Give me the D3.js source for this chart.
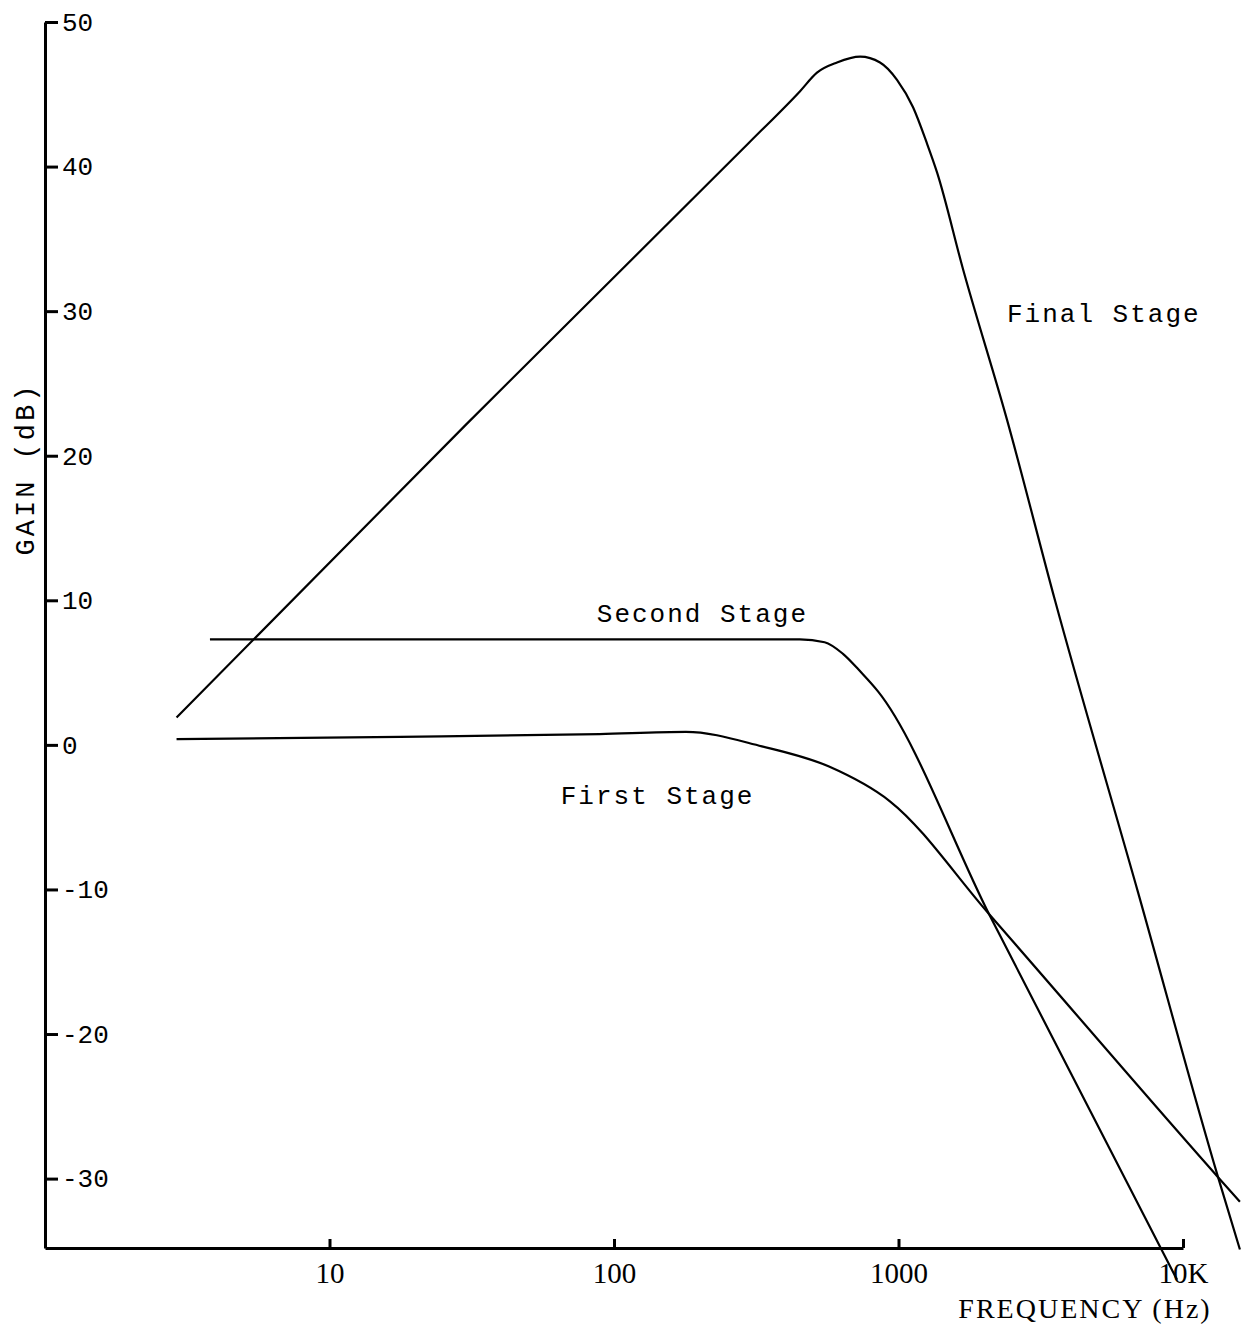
<!DOCTYPE html>
<html>
<head>
<meta charset="utf-8">
<script src="https://d3js.org/d3.v7.min.js"></script>
<style>
  body { margin: 0; background: #fff; }
  .axis path, .axis line { stroke: #000; stroke-width: 3; }
  .curve { fill: none; stroke: #000; stroke-width: 2.2; stroke-linejoin: round; }
</style>
</head>
<body>
<svg></svg>
<script>
// values (frequency in Hz, gain in dB)
var finalFreq = [2.9, 30, 300, 450, 517, 608, 733, 861, 988, 1125, 1259, 1366, 1686, 2406, 3548, 6950, 13280, 15850];
var finalGain = [1.9, 22.1, 41.7, 45.2, 46.5, 47.2, 47.6, 47.2, 46.0, 44.1, 41.6, 39.6, 32.9, 22.5, 10.0, -10.2, -29.9, -34.9];

var secondFreq = [3.8, 50, 450, 550, 638, 740, 847, 2080, 9530];
var secondGain = [7.3, 7.3, 7.3, 7.1, 6.3, 5.0, 3.7, -11.7, -37.0];

var firstFreq = [2.9, 17.7, 89, 179, 331, 570, 933, 2080, 13280, 15850];
var firstGain = [0.4, 0.55, 0.75, 0.9, -0.1, -1.5, -3.9, -11.7, -29.9, -31.6];

var curveNames = ["Final Stage", "Second Stage", "First Stage"];
var labelFreq = [2406, 87, 65];
var labelGain = [29.25, 8.5, -4.1];

var xTickValues = [10, 100, 1000, 10000];
var xTickLabels = ["10", "100", "1000", "10K"];
var yTickValues = [-30, -20, -10, 0, 10, 20, 30, 40, 50];

var width = 1246;
var height = 1328;

var svg = d3.select("svg")
            .attr("width", width)
            .attr("height", height);

var xScale = d3.scaleLog()
               .domain([1, 10000])
               .range([45, 1183]);

var yScale = d3.scaleLinear()
               .domain([-34.8, 50])
               .range([1248, 22]);

var line = d3.line()
             .x(function(d){ return xScale(d[0]); })
             .y(function(d){ return yScale(d[1]); })
             .curve(d3.curveMonotoneX);

var series = [
  d3.zip(finalFreq, finalGain),
  d3.zip(secondFreq, secondGain),
  d3.zip(firstFreq, firstGain)
];

svg.selectAll("path.curve")
   .data(series)
   .enter()
   .append("path")
   .attr("class", "curve")
   .attr("stroke-width", function(d, i){ return i == 1 ? 2.8 : 2.2; })
   .attr("d", line);

// axes
var xAxis = d3.axisBottom()
              .scale(xScale)
              .tickValues(xTickValues)
              .tickFormat(function(d, i){ return xTickLabels[i]; })
              .tickSizeInner(-9)
              .tickSizeOuter(0)
              .tickPadding(14);

// plain hyphen for negatives, like the typed labels
var yAxis = d3.axisRight()
              .scale(yScale)
              .tickValues(yTickValues)
              .tickFormat(function(d){ return String(d); })
              .tickSizeInner(13)
              .tickSizeOuter(0)
              .tickPadding(4);

var gx = svg.append("g")
   .attr("class", "axis")
   .attr("transform", "translate(0," + yScale(-34.8) + ")")
   .call(xAxis);

gx.selectAll("text")
  .attr("fill", "#000")
  .style("font-family", "'Liberation Serif', serif")
  .style("font-size", "29px");

var gy = svg.append("g")
   .attr("class", "axis")
   .attr("transform", "translate(" + xScale(1) + ",0)")
   .call(yAxis);

gy.selectAll("text")
  .attr("fill", "#000")
  .style("font-family", "'Liberation Mono', monospace")
  .style("font-size", "26px");

// curve labels
svg.selectAll("text.name")
   .data(curveNames)
   .enter()
   .append("text")
   .attr("class", "name")
   .attr("x", function(d, i){ return xScale(labelFreq[i]); })
   .attr("y", function(d, i){ return yScale(labelGain[i]); })
   .style("font-family", "'Liberation Mono', monospace")
   .style("font-size", "26px")
   .style("letter-spacing", "2px")
   .text(function(d){ return d; });

// axis titles
svg.append("text")
   .attr("transform", "translate(34,469) rotate(-90)")
   .attr("text-anchor", "middle")
   .style("font-family", "'Liberation Mono', monospace")
   .style("font-size", "27px")
   .style("letter-spacing", "3px")
   .text("GAIN (dB)");

svg.append("text")
   .attr("x", 1085)
   .attr("y", 1318)
   .attr("text-anchor", "middle")
   .style("font-family", "'Liberation Serif', serif")
   .style("font-size", "28px")
   .style("letter-spacing", "2px")
   .text("FREQUENCY (Hz)");
</script>
</body>
</html>
